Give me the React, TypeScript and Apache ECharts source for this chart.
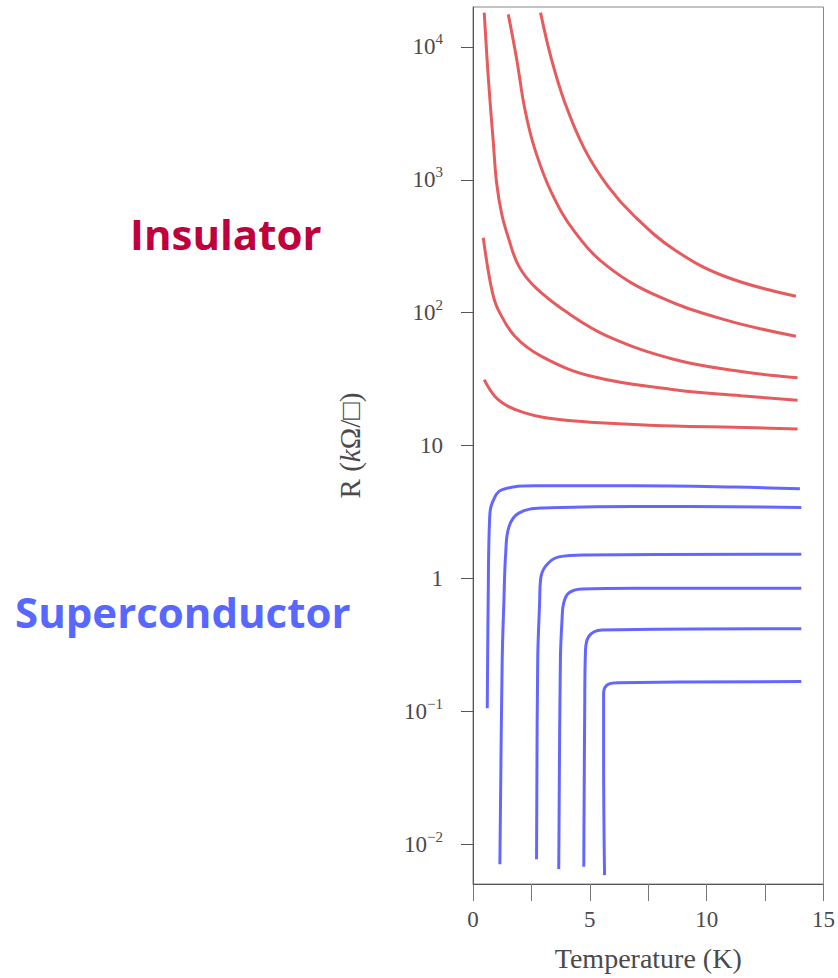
import React, { useEffect, useRef } from 'react';
import * as echarts from 'echarts';

// Temperature (K), Resistance (kΩ/□) pairs
const insulatorA = [[2.89, 18150], [3.36, 8075], [3.93, 3810], [4.78, 1694], [5.77, 897], [6.91, 532], [8.62, 298], [10.76, 188], [13.82, 133]];
const insulatorB = [[1.51, 17600], [1.87, 8075], [2.22, 3396], [2.65, 1694], [3.36, 800], [4.37, 402], [5.77, 222], [7.91, 133], [10.76, 88.7], [13.82, 66.4]];
const insulatorC = [[0.48, 18150], [0.65, 6040], [0.87, 1905], [1.01, 951], [1.225, 558], [1.51, 368], [1.96, 224], [2.68, 154.5], [4.1, 98.4], [5.77, 66.4], [8.62, 44.4], [11.47, 36.1], [13.89, 32.3]];
const insulatorD = [[0.44, 366], [0.65, 208], [0.87, 133], [1.08, 105], [1.79, 66.4], [2.93, 46.9], [5.07, 33.2], [8.62, 26.3], [11.47, 23.7], [13.89, 21.9]];
const insulatorE = [[0.48, 31.3], [0.94, 23.4], [1.51, 19.7], [2.22, 17.6], [2.93, 16.4], [4.35, 15.3], [6.23, 14.6], [8.62, 14.0], [11.2, 13.7], [13.89, 13.3]];

const superA = [[0.61, 0.105], [0.65, 0.69], [0.71, 2.76], [0.82, 3.69], [1.25, 4.65], [2.67, 4.98], [6.94, 4.98], [11.2, 4.87], [13.99, 4.72]];
const superB = [[1.15, 0.00705], [1.25, 0.243], [1.32, 0.65], [1.4, 1.55], [1.54, 2.45], [1.96, 3.1], [2.96, 3.38], [6.94, 3.48], [14.05, 3.42]];
const superC = [[2.72, 0.00769], [2.77, 0.243], [2.85, 0.65], [2.89, 0.975], [3.1, 1.23], [3.67, 1.45], [4.81, 1.5], [14.05, 1.52]];
const superD = [[3.67, 0.00647], [3.74, 0.243], [3.81, 0.486], [3.88, 0.65], [4.1, 0.775], [4.66, 0.83], [6.94, 0.843], [14.05, 0.843]];
const superE = [[4.74, 0.00673], [4.78, 0.1], [4.81, 0.273], [4.95, 0.364], [5.52, 0.409], [14.05, 0.417]];
const superF = [[5.63, 0.00583], [5.59, 0.0427], [5.59, 0.136], [5.8, 0.16], [6.23, 0.164], [14.05, 0.167]];

const insulatorCurves = [insulatorA, insulatorB, insulatorC, insulatorD, insulatorE];
const superCurves = [superA, superB, superC, superD, superE, superF];

const yTickValues = [0.01, 0.1, 1, 10, 100, 1000, 10000];
const xLabelValues = [0, 5, 10, 15];

const RED = '#E65B5E';
const BLUE = '#6467FF';
const TEXT_GRAY = '#4a4a4a';
const SERIF = '"Liberation Serif", "DejaVu Serif", serif';

export default function App() {
  const ref = useRef<HTMLDivElement>(null);
  useEffect(() => {
    if (!ref.current) return;
    const chart = echarts.init(ref.current, null, { renderer: 'svg' });
    const series: any[] = [];
    insulatorCurves.forEach((c, i) => {
      series.push({
        name: 'Insulator ' + (i + 1),
        type: 'line',
        data: c,
        showSymbol: false,
        smooth: 0.4,
        lineStyle: { color: RED, width: 3 },
        itemStyle: { color: RED },
      });
    });
    superCurves.forEach((c, i) => {
      series.push({
        name: 'Superconductor ' + (i + 1),
        type: 'line',
        data: c,
        showSymbol: false,
        smooth: 0.4,
        lineStyle: { color: BLUE, width: 3 },
        itemStyle: { color: BLUE },
      });
    });
    const fmtY = (v: number) => {
      const e = Math.round(Math.log10(v));
      if (e === 0) return '{b|1}';
      if (e === 1) return '{b|10}';
      return '{b|10}{s|' + (e < 0 ? '\u2212' + -e : String(e)) + '}';
    };
    chart.setOption({
      animation: false,
      backgroundColor: '#ffffff',
      grid: {
        left: 473,
        right: 13,
        top: 7,
        bottom: 94,
        show: true,
        borderColor: '#888',
        borderWidth: 1,
      },
      xAxis: {
        type: 'value',
        min: 0,
        max: 15,
        interval: 2.5,
        name: 'Temperature (K)',
        nameLocation: 'middle',
        nameGap: 60,
        nameTextStyle: { fontFamily: SERIF, fontSize: 28, color: TEXT_GRAY },
        axisLine: { show: true, lineStyle: { color: '#555', width: 1 } },
        axisTick: { show: true, inside: false, length: 17, lineStyle: { color: '#777' } },
        axisLabel: {
          margin: 24,
          fontFamily: SERIF,
          fontSize: 23,
          color: TEXT_GRAY,
          formatter: (v: number) => (xLabelValues.indexOf(v) >= 0 ? String(v) : ''),
        },
        splitLine: { show: false },
      },
      yAxis: {
        type: 'log',
        logBase: 10,
        min: 0.005,
        max: 20000,
        name: 'R ({i|k}Ω/□)',
        nameLocation: 'middle',
        nameRotate: 90,
        nameGap: 109,
        nameTextStyle: {
          fontFamily: SERIF,
          fontSize: 29,
          color: TEXT_GRAY,
          rich: { i: { fontFamily: SERIF, fontStyle: 'italic', fontSize: 29, color: TEXT_GRAY } },
        },
        axisLine: { show: true, lineStyle: { color: '#555', width: 1 } },
        axisTick: { show: true, inside: false, length: 12, lineStyle: { color: '#555' }, customValues: yTickValues },
        axisLabel: {
          margin: 30,
          customValues: yTickValues,
          formatter: fmtY,
          rich: {
            b: { fontFamily: SERIF, fontSize: 23, color: TEXT_GRAY, lineHeight: 30 },
            s: { fontFamily: SERIF, fontSize: 15, color: TEXT_GRAY, lineHeight: 15, verticalAlign: 'top' },
          },
        },
        splitLine: { show: false },
      },
      graphic: [
        {
          type: 'text',
          x: 130,
          y: 233,
          style: {
            text: 'Insulator',
            fill: '#C0003C',
            font: 'bold 42px "Open Sans", "Noto Sans", sans-serif',
            textVerticalAlign: 'middle',
            textAlign: 'left',
          },
        },
        {
          type: 'text',
          x: 15,
          y: 611,
          style: {
            text: 'Superconductor',
            fill: '#5868FF',
            font: 'bold 42px "Open Sans", "Noto Sans", sans-serif',
            textVerticalAlign: 'middle',
            textAlign: 'left',
          },
        },
      ],
      series,
    });
    return () => chart.dispose();
  }, []);
  return <div ref={ref} style={{ position: 'fixed', left: 0, top: 0, width: 838, height: 978 }} />;
}
